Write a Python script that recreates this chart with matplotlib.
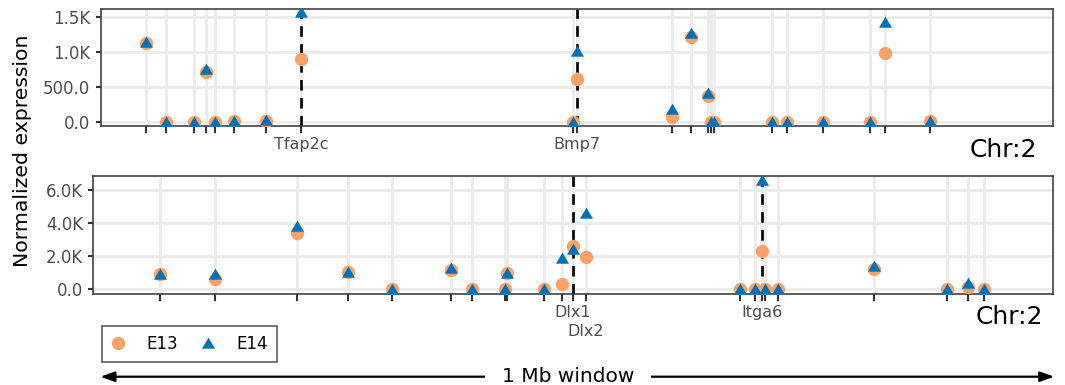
import matplotlib
matplotlib.use('Agg')
import matplotlib.pyplot as plt
from matplotlib.lines import Line2D
from matplotlib.patches import FancyArrowPatch

# gene positions in kb inside the 1 Mb window, expression for E13 / E14
top_pos = [50.3, 71.1, 100.3, 113.1, 121.9, 142.3, 175.3, 211.5, 495.4, 499.0, 597.9,
           618.0, 636.0, 638.9, 641.5, 702.1, 718.3, 755.8, 804.5, 820.1, 867.0]
top_e13 = [1135, 0, 0, 710, 0, 10, 15, 896, 0, 613, 72,
           1221, 369, 0, 0, 0, 0, 0, 0, 982, 10]
top_e14 = [1150, 0, 0, 757, 0, 10, 20, 1572, 0, 1020, 182,
           1270, 408, 0, 0, 0, 0, 0, 0, 1428, 15]
top_labels = ['', '', '', '', '', '', '', 'Tfap2c', '', 'Bmp7', '',
              '', '', '', '', '', '', '', '', '', '']
top_marked = ['Tfap2c', 'Bmp7']

bot_pos = [64.9, 121.9, 207.3, 261.0, 306.3, 368.0, 389.6, 423.8, 426.4, 464.9, 484.0,
           494.8, 508.6, 669.1, 684.7, 692.3, 695.1, 708.3, 808.6, 884.4, 906.9, 923.5]
bot_e13 = [890, 588, 3412, 1012, 0, 1151, 0, 0, 951, 0, 285,
           2606, 1921, 0, 0, 2303, 0, 0, 1194, 0, 140, 0]
bot_e14 = [900, 890, 3818, 1050, 0, 1254, 0, 0, 970, 0, 1860,
           2424, 4588, 0, 0, 6606, 0, 0, 1394, 0, 345, 0]
bot_labels = ['', '', '', '', '', '', '', '', '', '', '',
              'Dlx1', 'Dlx2', '', '', 'Itga6', '', '', '', '', '', '']
bot_marked = ['Dlx1', 'Itga6']
bot_dodged = ['Dlx2']  # second row of labels

top_yticks = [0, 500, 1000, 1500]
top_yticklabels = ['0.0', '500.0', '1.0K', '1.5K']
bot_yticks = [0, 2000, 4000, 6000]
bot_yticklabels = ['0.0', '2.0K', '4.0K', '6.0K']

C13 = '#FBA26A'
C14 = '#0072B2'
TRI = [(-1, -0.8), (1, -0.8), (0, 0.9)]

W, H = 1065, 385
fig = plt.figure(figsize=(W / 100, H / 100), dpi=100)


def draw_panel(ax, pos, e13, e14, labels, marked, ylim, yticks, yticklabels, xmin, dodged=()):
    ax.set_xlim(xmin, 995.1)
    ax.set_ylim(*ylim)
    ax.set_xticks(pos, labels=labels)
    ax.set_yticks(yticks, labels=yticklabels)
    ax.grid(True, color='#ebebeb', lw=2)
    ax.set_axisbelow(True)
    for x, lab in zip(pos, labels):
        if lab in marked:
            ax.axvline(x, color='black', lw=1.9, ls=(0, (4, 2.8)), zorder=2)
    ax.plot(pos, e13, 'o', ms=9.6, color=C13, mec='none', zorder=3)
    ax.plot(pos, e14, ls='none', marker=TRI, ms=9.4, color=C14, mec='none', zorder=4)
    ax.tick_params(axis='x', length=4.8, width=1.5, color='#333333',
                   labelsize=11.5, labelcolor='#4d4d4d', pad=3)
    ax.tick_params(axis='y', length=3.4, width=1.5, color='#333333',
                   labelsize=12, labelcolor='#4d4d4d', pad=4)
    for tick, lab in zip(ax.xaxis.get_major_ticks(), labels):
        if lab in dodged:
            tick.set_pad(17)
    for s in ax.spines.values():
        s.set_color('#333333')
        s.set_linewidth(1.1)


ax1 = fig.add_axes([100.7 / W, 1 - 126 / H, (1053 - 100.7) / W, (126 - 9) / H])
ax2 = fig.add_axes([93.3 / W, 1 - 294 / H, (1053 - 93.3) / W, (294 - 175.7) / H])
draw_panel(ax1, top_pos, top_e13, top_e14, top_labels, top_marked,
           (-62, 1619), top_yticks, top_yticklabels, 3.1)
draw_panel(ax2, bot_pos, bot_e13, bot_e14, bot_labels, bot_marked,
           (-303, 6867), bot_yticks, bot_yticklabels, -4.6, bot_dodged)

fig.text(1037 / W, 1 - 150 / H, 'Chr:2', ha='right', va='center', fontsize=18)
fig.text(1043 / W, 1 - 316.7 / H, 'Chr:2', ha='right', va='center', fontsize=18)
fig.text(23 / W, 1 - 151 / H, 'Normalized expression', rotation=90,
         ha='center', va='center', fontsize=14.7)

handles = [Line2D([], [], ls='none', marker='o', ms=9.6, color=C13, mec='none'),
           Line2D([], [], ls='none', marker=TRI, ms=9.4, color=C14, mec='none')]
leg = fig.legend(handles, ['E13', 'E14'], loc='upper left',
                 bbox_to_anchor=(101.7 / W, 1 - 325.7 / H), ncol=2, fontsize=12,
                 frameon=True, fancybox=False, edgecolor='#333333',
                 handlelength=0.9, handletextpad=1.25, columnspacing=1.35,
                 borderpad=0.55, borderaxespad=0)
leg.get_frame().set_linewidth(1.2)

ya = 1 - 376.7 / H
fig.add_artist(FancyArrowPatch((97.7 / W, ya), (1057 / W, ya), transform=fig.transFigure,
                               arrowstyle='<|-|>,head_length=0.7,head_width=0.25',
                               mutation_scale=12, lw=1.6, color='black'))
fig.text(568 / W, ya, '1 Mb window', ha='center', va='center', fontsize=14.5,
         bbox=dict(fc='white', ec='none', pad=12))

fig.savefig('out.png', dpi=100)
